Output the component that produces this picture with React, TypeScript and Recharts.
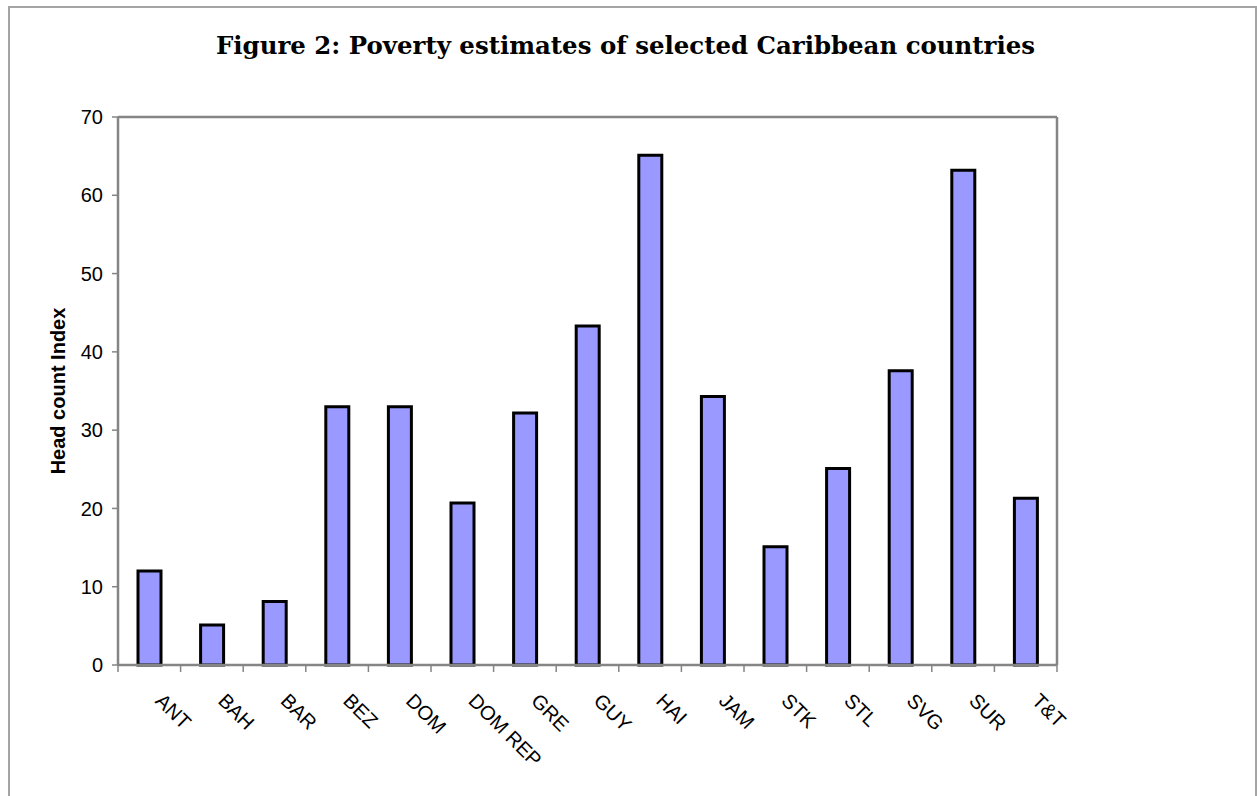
import React from 'react';
import { BarChart, Bar, XAxis, YAxis, ReferenceLine } from 'recharts';

const countries = ['ANT', 'BAH', 'BAR', 'BEZ', 'DOM', 'DOM REP', 'GRE', 'GUY', 'HAI', 'JAM', 'STK', 'STL', 'SVG', 'SUR', 'T&T'];
const headCount = [12, 5.1, 8.1, 33, 33, 20.7, 32.2, 43.3, 65.1, 34.3, 15.1, 25.1, 37.6, 63.2, 21.3];
const yTicks = [0, 10, 20, 30, 40, 50, 60, 70];
const titleText = 'Figure 2: Poverty estimates of selected Caribbean countries';
const yLabelText = 'Head count Index';

const data = countries.map((c, i) => ({ country: c, value: headCount[i] }));

const FONT = '"Liberation Sans", Arial, sans-serif';
const AXIS_GRAY = '#858585';

const XTick = (props: any) => {
  const { x, y, payload, index, visibleTicksCount } = props;
  const half = typeof payload?.offset === 'number' ? payload.offset : 0;
  const isLast = index === visibleTicksCount - 1;
  return (
    <g>
      <line x1={x - half} x2={x - half} y1={y} y2={y + 7} stroke={AXIS_GRAY} strokeWidth={1.5} />
      {isLast && <line x1={x + half} x2={x + half} y1={y} y2={y + 7} stroke={AXIS_GRAY} strokeWidth={1.5} />}
      <g transform={`translate(${x + 5},${y + 37})`}>
        <text x={0} y={0} transform="rotate(45)" textAnchor="start" fontSize={20} fontFamily={FONT} fill="#000">
          {payload.value}
        </text>
      </g>
    </g>
  );
};

const EmptyTick = () => <g />;

const YLabel = (props: any) => {
  const vb = props.viewBox;
  const cx = vb.x + 57;
  const cy = vb.y + vb.height / 2;
  return (
    <text
      x={cx}
      y={cy}
      transform={`rotate(-90 ${cx} ${cy})`}
      textAnchor="middle"
      fontSize={20}
      fontWeight="bold"
      fontFamily={FONT}
      fill="#000"
    >
      {yLabelText}
    </text>
  );
};

export default function App() {
  return (
    <div style={{ position: 'fixed', left: 0, top: 0, width: 1257, height: 796, overflow: 'hidden', background: '#fff' }}>
      <div
        style={{
          position: 'absolute',
          left: 8,
          top: 6,
          width: 1249,
          height: 830,
          border: '2px solid #a4a4a4',
          boxSizing: 'border-box',
        }}
      />
      <div style={{ position: 'absolute', left: 8, top: 8 }}>
        <BarChart width={1240} height={788} data={data} margin={{ top: 109, right: 190, left: 0, bottom: 11 }}>
          <XAxis
            xAxisId="cat"
            dataKey="country"
            type="category"
            interval={0}
            tickLine={false}
            axisLine={{ stroke: AXIS_GRAY, strokeWidth: 2.5 }}
            tickSize={0}
            tickMargin={0}
            tick={<XTick />}
            height={120}
          />
          <YAxis
            type="number"
            domain={[0, 70]}
            ticks={yTicks}
            interval={0}
            width={110}
            tickSize={6}
            tickMargin={9}
            tickLine={{ stroke: AXIS_GRAY, strokeWidth: 1.5 }}
            axisLine={{ stroke: AXIS_GRAY, strokeWidth: 2.5 }}
            tick={{ fill: '#000', fontSize: 20, fontFamily: FONT }}
            label={YLabel}
          />
          <YAxis
            yAxisId="right"
            orientation="right"
            type="number"
            domain={[0, 70]}
            ticks={yTicks}
            tick={EmptyTick}
            tickLine={false}
            axisLine={{ stroke: AXIS_GRAY, strokeWidth: 2.5 }}
            width={1}
          />
          <ReferenceLine xAxisId="cat" y={70} stroke={AXIS_GRAY} strokeWidth={2.5} />
          <Bar
            xAxisId="cat"
            dataKey="value"
            fill="#9999FF"
            stroke="#000"
            strokeWidth={3}
            barSize={23}
            isAnimationActive={false}
          />
        </BarChart>
      </div>
      <svg style={{ position: 'absolute', left: 0, top: 0 }} width={1257} height={70}>
        <text
          x={625.5}
          y={54}
          textAnchor="middle"
          fontFamily='"DejaVu Serif", serif'
          fontWeight="bold"
          fontSize={24}
          textLength={819}
          lengthAdjust="spacingAndGlyphs"
          fill="#000"
        >
          {titleText}
        </text>
      </svg>
    </div>
  );
}
